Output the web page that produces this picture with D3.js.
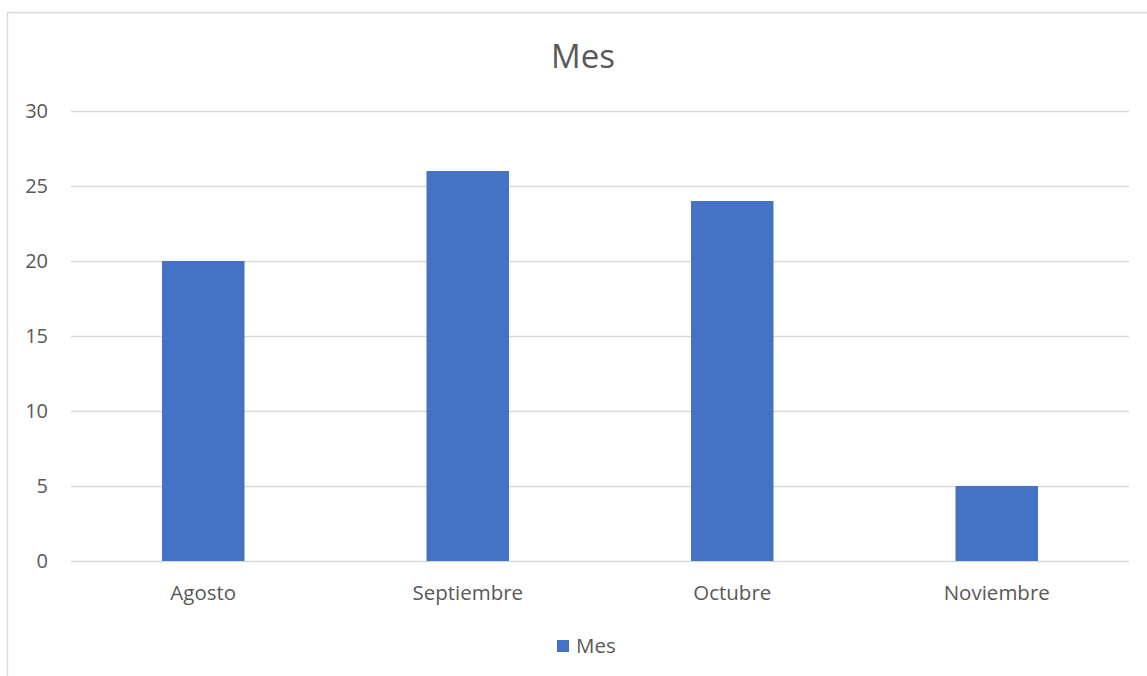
<!DOCTYPE html>
<html>
<head>
<meta charset="utf-8">
<script src="https://cdn.jsdelivr.net/npm/d3@7"></script>
<style>
  body { margin: 0; background: #fff; }
  text { font-family: "Open Sans", "Noto Sans", sans-serif; fill: #595959; }
</style>
</head>
<body>
<div id="chart"></div>
<script>
// data
var categories = ["Agosto", "Septiembre", "Octubre", "Noviembre"];
var values = [20, 26, 24, 5];
var yTicks = [0, 5, 10, 15, 20, 25, 30];
var seriesName = "Mes";

var width = 1147, height = 676;
var margin = {left: 71, right: 1129, top: 111, bottom: 561};

var svg = d3.select("#chart").append("svg")
    .attr("width", width)
    .attr("height", height);

// chart area frame (only left + top visible in reference)
svg.append("path")
   .attr("d", "M7.5,676 V12.5 H1147")
   .attr("fill", "none")
   .attr("stroke", "#d9d9d9")
   .attr("stroke-width", 1.5);

var x = d3.scaleBand()
    .domain(categories)
    .range([margin.left, margin.right])
    .paddingInner(0.688)
    .paddingOuter(0.344);

var y = d3.scaleLinear()
    .domain([0, 30])
    .range([margin.bottom, margin.top]);

// gridlines
svg.append("g").selectAll("line")
   .data(yTicks)
   .enter().append("line")
   .attr("x1", margin.left)
   .attr("x2", margin.right)
   .attr("y1", function(d) { return Math.round(y(d)) + 0.5; })
   .attr("y2", function(d) { return Math.round(y(d)) + 0.5; })
   .attr("stroke", "#d9d9d9")
   .attr("stroke-width", 1.5);

// y tick labels
svg.append("g").selectAll("text")
   .data(yTicks)
   .enter().append("text")
   .attr("x", 48)
   .attr("y", function(d) { return y(d); })
   .attr("dy", "0.35em")
   .attr("text-anchor", "end")
   .style("font-size", "20px")
   .text(function(d) { return d; });

// bars
svg.append("g").selectAll("rect")
   .data(values)
   .enter().append("rect")
   .attr("x", function(d, i) { return x(categories[i]); })
   .attr("width", x.bandwidth())
   .attr("y", function(d) { return y(d); })
   .attr("height", function(d) { return y(0) - y(d); })
   .attr("fill", "#4472c4");

// category labels
svg.append("g").selectAll("text")
   .data(categories)
   .enter().append("text")
   .attr("x", function(d) { return x(d) + x.bandwidth() / 2; })
   .attr("y", 600)
   .attr("text-anchor", "middle")
   .style("font-size", "20.5px")
   .text(function(d) { return d; });

// title
svg.append("text")
   .attr("x", 583)
   .attr("y", 68)
   .attr("text-anchor", "middle")
   .style("font-size", "33px")
   .text(seriesName);

// legend
var legend = svg.append("g");
legend.append("rect")
   .attr("x", 557)
   .attr("y", 640)
   .attr("width", 12)
   .attr("height", 12)
   .attr("fill", "#4472c4");
legend.append("text")
   .attr("x", 576)
   .attr("y", 653)
   .style("font-size", "20.5px")
   .text(seriesName);
</script>
</body>
</html>
